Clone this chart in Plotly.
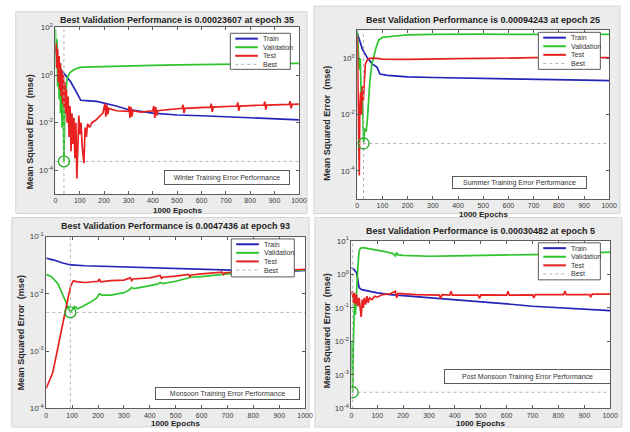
import plotly.graph_objects as go

W, H = 630, 432

# ---------------- data ----------------
epoch_ticks = [0, 100, 200, 300, 400, 500, 600, 700, 800, 900, 1000]
series_names = ["Train", "Validation", "Test", "Best"]

# Winter
winter_train_epoch = [0, 5, 10, 15, 30, 45, 63, 85, 104, 140, 170, 250, 300, 400, 500, 600, 700, 800, 900, 1000]
winter_train_mse = [12.6, 6.3, 3.2, 2.1, 1.38, 0.87, 0.51, 0.2, 0.087, 0.082, 0.079, 0.05, 0.035, 0.025, 0.021, 0.0195, 0.0174, 0.0158, 0.0145, 0.0132]
winter_val_epoch = [0, 3, 6, 9, 12, 15, 18, 21, 24, 27, 30, 33, 35, 38, 42, 46, 51, 60, 75, 100, 150, 200, 300, 400, 500, 600, 700, 800, 900, 1000]
winter_val_mse = [89, 2.0, 32, 0.32, 5.0, 0.1, 2.5, 0.025, 1.26, 0.0063, 0.25, 0.0016, 0.00023607, 0.016, 0.16, 0.5, 0.91, 1.26, 1.66, 2.1, 2.2, 2.3, 2.45, 2.57, 2.7, 2.8, 2.9, 2.95, 3.0, 3.1]
winter_test_epoch = [0, 3, 6, 9, 12, 15, 18, 21, 24, 27, 30, 33, 36, 39, 42, 45, 48, 52, 56, 60,
                     64, 68, 72, 76, 80, 84, 88, 92, 96, 100, 105, 110, 117, 122, 127, 132, 140, 150, 165, 180,
                     195, 203, 207, 211, 215, 219, 250, 300, 303, 306, 310, 314, 318, 350, 400, 404, 408, 412, 416, 420,
                     460, 520, 524, 528, 532, 600, 636, 640, 644, 648, 700, 745, 749, 753, 757, 800, 856, 860, 864, 868,
                     900, 960, 964, 968, 972, 1000]
winter_test_mse = [10, 22, 2.0, 12.6, 0.5, 6.3, 0.25, 3.2, 0.126, 1.6, 0.063, 1.0, 0.04, 0.5, 0.025, 0.25, 0.01, 0.126, 0.0025, 0.05,
                   0.00063, 0.025, 0.00126, 0.016, 0.00032, 0.01, 0.000045, 0.0063, 0.02, 0.0032, 0.01, 0.001, 0.0002, 0.0063, 0.0025, 0.0089, 0.0063, 0.01, 0.0126, 0.0178,
                   0.025, 0.063, 0.0178, 0.056, 0.0224, 0.04, 0.0316, 0.030, 0.05, 0.0158, 0.045, 0.0178, 0.0316, 0.028, 0.0316, 0.05, 0.0158, 0.045, 0.02, 0.0316,
                   0.0355, 0.04, 0.056, 0.025, 0.04, 0.044, 0.045, 0.063, 0.028, 0.045, 0.048, 0.05, 0.071, 0.0316, 0.05, 0.052, 0.055, 0.076, 0.0355, 0.055,
                   0.056, 0.059, 0.079, 0.04, 0.059, 0.060]
winter_best_epoch = 35
winter_best_mse = 0.00023607

# Summer
summer_train_epoch = [0, 10, 20, 39, 60, 78, 90, 120, 150, 200, 300, 400, 500, 600, 700, 800, 900, 1000]
summer_train_mse = [7.9, 4.0, 2.2, 1.07, 0.63, 0.49, 0.28, 0.25, 0.24, 0.22, 0.21, 0.204, 0.2, 0.19, 0.186, 0.178, 0.17, 0.162]
summer_val_epoch = [0, 4, 8, 12, 16, 20, 25, 30, 35, 40, 45, 50, 58, 66, 75, 85, 100, 150, 200, 300, 400, 500, 600, 700, 800, 900, 1000]
summer_val_mse = [10, 1.58, 0.4, 1.0, 0.032, 0.1, 0.00094243, 0.0032, 0.0025, 0.0063, 0.04, 0.16, 0.63, 1.26, 2.5, 4.5, 5.6, 6.3, 6.9, 7.2, 7.4, 7.3, 7.2, 7.4, 7.2, 7.3, 7.2]
summer_test_epoch = [0, 3, 6, 8, 10, 13, 16, 20, 24, 28, 32, 40, 50, 70, 100, 200, 300, 400, 500, 600, 700, 800, 900, 1000]
summer_test_mse = [6.0, 0.1, 0.0032, 0.000068, 0.016, 0.063, 0.01, 0.1, 0.032, 0.25, 0.63, 0.89, 1.0, 1.02, 0.95, 0.93, 0.93, 0.98, 1.0, 1.05, 1.07, 1.07, 1.07, 1.07]
summer_best_epoch = 25
summer_best_mse = 0.00094243

# Monsoon
monsoon_train_epoch = [0, 30, 60, 95, 150, 250, 350, 450, 550, 650, 750, 850, 950, 1000]
monsoon_train_mse = [0.042, 0.039, 0.035, 0.032, 0.031, 0.030, 0.0295, 0.028, 0.027, 0.026, 0.0257, 0.025, 0.025, 0.0257]
monsoon_val_epoch = [0, 20, 45, 60, 75, 85, 93, 100, 110, 120, 140, 170, 195, 205, 215, 250, 300, 320, 330, 340,
                     400, 430, 440, 450, 500, 550, 560, 600, 700, 800, 900, 1000]
monsoon_val_mse = [0.0219, 0.020, 0.0151, 0.0105, 0.0071, 0.0056, 0.0047436, 0.0052, 0.0060, 0.0055, 0.0060, 0.0071, 0.0085, 0.010, 0.0095, 0.0095, 0.0105, 0.0117, 0.0129, 0.0123,
                   0.0138, 0.0148, 0.0158, 0.0151, 0.0166, 0.0186, 0.0195, 0.020, 0.0224, 0.0234, 0.025, 0.0263]
monsoon_test_epoch = [0, 10, 25, 40, 55, 70, 85, 95, 105, 120, 150, 200, 205, 210, 250, 300, 325, 330, 335, 400,
                      440, 445, 450, 500, 550, 555, 560, 600, 680, 685, 690, 750, 850, 1000]
monsoon_test_mse = [0.000224, 0.00028, 0.00042, 0.00089, 0.0020, 0.0041, 0.0089, 0.0141, 0.017, 0.0162, 0.0158, 0.0166, 0.0182, 0.0162, 0.017, 0.0174, 0.019, 0.017, 0.0182, 0.019,
                    0.0209, 0.0186, 0.0195, 0.0204, 0.0219, 0.020, 0.0214, 0.0224, 0.024, 0.0219, 0.0234, 0.0245, 0.025, 0.0269]
monsoon_best_epoch = 93
monsoon_best_mse = 0.0047436

# Post Monsoon
post_train_epoch = [0, 10, 20, 25, 30, 40, 60, 100, 150, 200, 300, 400, 500, 600, 700, 800, 900, 1000]
post_train_mse = [1.58, 1.41, 1.12, 0.63, 0.4, 0.35, 0.32, 0.28, 0.25, 0.234, 0.204, 0.174, 0.151, 0.132, 0.112, 0.1, 0.091, 0.083]
post_val_epoch = [0, 3, 5, 8, 12, 16, 20, 25, 30, 35, 45, 60, 80, 100, 130, 160, 170, 175, 180, 200, 250, 300, 400, 500, 600, 700, 800, 900, 1000]
post_val_mse = [0.01, 0.001, 0.00030482, 0.01, 0.158, 0.063, 0.316, 1.58, 5.0, 6.0, 6.3, 6.0, 5.75, 5.4, 4.8, 4.2, 3.55, 4.5, 3.8, 3.7, 3.55, 3.47, 3.55, 3.6, 3.7, 3.9, 4.0, 4.2, 4.6]
post_test_epoch = [0, 4, 8, 12, 16, 20, 25, 30, 34, 38, 42, 46, 50, 55, 60, 65, 70, 80, 90, 100,
                   120, 150, 170, 175, 180, 250, 340, 345, 350, 380, 385, 390, 490, 495, 500, 600, 605, 610, 700, 705,
                   710, 820, 825, 830, 920, 925, 930, 1000]
post_test_mse = [0.25, 0.316, 0.141, 0.282, 0.126, 0.25, 0.112, 0.2, 0.1, 0.054, 0.178, 0.1, 0.2, 0.126, 0.224, 0.141, 0.2, 0.178, 0.224, 0.209,
                 0.25, 0.263, 0.316, 0.2, 0.269, 0.25, 0.24, 0.19, 0.25, 0.24, 0.316, 0.24, 0.24, 0.19, 0.245, 0.24, 0.316, 0.24, 0.245, 0.2,
                 0.25, 0.25, 0.316, 0.25, 0.25, 0.209, 0.257, 0.257]
post_best_epoch = 5
post_best_mse = 0.00030482

# ---------------- styling / layout ----------------
FONT = "Liberation Sans, Arial, sans-serif"
COL = {"Train": "#2424b8", "Validation": "#2ec42e", "Test": "#e82020", "Best": "#b4b4b4"}


def fx(px):
    return px / W


def fy(py):
    return 1 - py / H


def sup(e):
    return "10<sup>%d</sup>" % e


panels = [
    dict(train=(winter_train_epoch, winter_train_mse), val=(winter_val_epoch, winter_val_mse),
         test=(winter_test_epoch, winter_test_mse), best=(winter_best_epoch, winter_best_mse),
         title="Best Validation Performance is 0.00023607 at epoch 35",
         caption="Winter Training Error Performance",
         bg=(14, 6, 310, 213), plot=(54.3, 22, 301.7, 193), yexp=(-5, 2), yticks=[-4, -2, 0, 2],
         title_y=14, ylab=(28, 129), xlab_y=210, cap=(229, 175.5, 122, 11), leg=(232, 28, 293, 65)),
    dict(train=(summer_train_epoch, summer_train_mse), val=(summer_val_epoch, summer_val_mse),
         test=(summer_test_epoch, summer_test_mse), best=(summer_best_epoch, summer_best_mse),
         title="Best Validation Performance is 0.00094243 at epoch 25",
         caption="Summer Training Error Performance",
         bg=(317, 0, 628, 213), plot=(361, 25, 617, 198), yexp=(-5, 1), yticks=[-4, -2, 0],
         title_y=14, ylab=(330, 120), xlab_y=214, cap=(525.5, 181.5, 131, 9), leg=(545, 27, 608, 65)),
    dict(train=(monsoon_train_epoch, monsoon_train_mse), val=(monsoon_val_epoch, monsoon_val_mse),
         test=(monsoon_test_epoch, monsoon_test_mse), best=(monsoon_best_epoch, monsoon_best_mse),
         title="Best Validation Performance is 0.0047436 at epoch 93",
         caption="Monsoon Training Error Performance",
         bg=(10, 217, 312, 432), plot=(45, 236.7, 308, 412.7), yexp=(-4, -1), yticks=[-4, -3, -2, -1],
         title_y=226, ylab=(20, 335), xlab_y=428, cap=(229.5, 397.5, 141, 9), leg=(233, 239, 297, 278)),
    dict(train=(post_train_epoch, post_train_mse), val=(post_val_epoch, post_val_mse),
         test=(post_test_epoch, post_test_mse), best=(post_best_epoch, post_best_mse),
         title="Best Validation Performance is 0.00030482 at epoch 5",
         caption="Post Monsoon Training Error Performance",
         bg=(318, 217, 630, 432), plot=(355, 241, 618, 413), yexp=(-4, 1), yticks=[-4, -3, -2, -1, 0, 1],
         title_y=231, ylab=(330, 333), xlab_y=428, cap=(533.5, 380.5, 163, 11), leg=(545, 243, 608, 281)),
]

fig = go.Figure()
shapes_below, shapes_above, annotations = [], [], []
layout_axes = {}

for i, p in enumerate(panels, start=1):
    xa, ya = "x%d" % i, "y%d" % i
    xname = "xaxis" if i == 1 else "xaxis%d" % i
    yname = "yaxis" if i == 1 else "yaxis%d" % i
    x0, y0, x1, y1 = p["plot"]
    lo, hi = p["yexp"]

    axis_common = dict(showline=True, linecolor="#5c5c5c", linewidth=1, mirror="ticks",
                       ticks="inside", ticklen=3, tickcolor="#5c5c5c", showgrid=False, zeroline=False)
    layout_axes[xname] = dict(axis_common, domain=[fx(x0), fx(x1)], range=[0, 1000], anchor=ya,
                              tickvals=epoch_ticks, ticktext=[str(t) for t in epoch_ticks],
                              tickfont=dict(family=FONT, size=7, color="#3a3a3a"))
    layout_axes[yname] = dict(axis_common, domain=[fy(y1), fy(y0)], type="log", range=[lo, hi], anchor=xa,
                              tickvals=[10.0 ** e for e in p["yticks"]], ticktext=[sup(e) for e in p["yticks"]],
                              tickfont=dict(family=FONT, size=8, color="#3a3a3a"))

    for key, name in (("train", "Train"), ("val", "Validation"), ("test", "Test")):
        ex, mse = p[key]
        fig.add_trace(go.Scatter(x=ex, y=mse, mode="lines", name=name, xaxis=xa, yaxis=ya,
                                 line=dict(color=COL[name], width=1.7), showlegend=False, hoverinfo="skip"))
    be, bv = p["best"]
    fig.add_trace(go.Scatter(x=[epoch_ticks[0], epoch_ticks[-1]], y=[bv, bv], mode="lines", xaxis=xa, yaxis=ya,
                             line=dict(color=COL["Best"], width=1, dash="dot"), showlegend=False, hoverinfo="skip"))
    fig.add_trace(go.Scatter(x=[be, be], y=[10.0 ** lo, 10.0 ** hi], mode="lines", xaxis=xa, yaxis=ya,
                             line=dict(color=COL["Best"], width=1, dash="dot"), showlegend=False, hoverinfo="skip"))
    fig.add_trace(go.Scatter(x=[be], y=[bv], mode="markers", xaxis=xa, yaxis=ya,
                             marker=dict(symbol="circle-open", size=11, color="#22a822", line=dict(width=1.3)),
                             showlegend=False, hoverinfo="skip"))

    # panel background (MATLAB figure grey) and white axes area
    bx0, by0, bx1, by1 = p["bg"]
    shapes_below.append(dict(type="rect", xref="paper", yref="paper", x0=fx(bx0), x1=fx(bx1), y0=fy(by1), y1=fy(by0),
                             fillcolor="#ececec", line=dict(color="#d4d4d4", width=1), layer="below"))
    shapes_below.append(dict(type="rect", xref="paper", yref="paper", x0=fx(x0), x1=fx(x1), y0=fy(y1), y1=fy(y0),
                             fillcolor="white", line=dict(width=0), layer="below"))

    # title, axis labels
    cx = (x0 + x1) / 2
    annotations.append(dict(text="<b>%s</b>" % p["title"], x=fx(cx), y=fy(p["title_y"]), xref="paper", yref="paper",
                            xanchor="center", yanchor="middle", showarrow=False,
                            font=dict(family=FONT, size=9, color="#1e1e1e")))
    annotations.append(dict(text="<b>1000 Epochs</b>", x=fx(cx), y=fy(p["xlab_y"]), xref="paper", yref="paper",
                            xanchor="center", yanchor="middle", showarrow=False,
                            font=dict(family=FONT, size=8, color="#1e1e1e")))
    annotations.append(dict(text="<b>Mean Squared Error\u00a0 (mse)</b>", x=fx(p["ylab"][0]), y=fy(p["ylab"][1]),
                            xref="paper", yref="paper", xanchor="center", yanchor="middle", textangle=-90,
                            showarrow=False, font=dict(family=FONT, size=9, color="#2a2a2a")))
    # caption box
    ccx, ccy, cw, ch = p["cap"]
    annotations.append(dict(text=p["caption"], x=fx(ccx), y=fy(ccy), xref="paper", yref="paper",
                            xanchor="center", yanchor="middle", showarrow=False, width=cw, height=ch,
                            bgcolor="white", bordercolor="#5a5a5a", borderwidth=1, borderpad=1,
                            font=dict(family=FONT, size=7, color="#333333")))
    # legend box
    lx0, ly0, lx1, ly1 = p["leg"]
    shapes_above.append(dict(type="rect", xref="paper", yref="paper", x0=fx(lx0), x1=fx(lx1), y0=fy(ly1), y1=fy(ly0),
                             fillcolor="white", line=dict(color="#5a5a5a", width=1), layer="above"))
    for k, name in enumerate(series_names):
        ry = ly0 + 5.5 + k * 8.8
        shapes_above.append(dict(type="line", xref="paper", yref="paper", x0=fx(lx0 + 5), x1=fx(lx0 + 28),
                                 y0=fy(ry), y1=fy(ry), layer="above",
                                 line=dict(color=COL[name], width=1 if name == "Best" else 2,
                                           dash="dot" if name == "Best" else "solid")))
        annotations.append(dict(text=name, x=fx(lx0 + 31), y=fy(ry), xref="paper", yref="paper",
                                xanchor="left", yanchor="middle", showarrow=False,
                                font=dict(family=FONT, size=7, color="#333333")))

fig.update_layout(
    width=W, height=H, autosize=False,
    margin=dict(l=0, r=0, t=0, b=0, pad=0),
    paper_bgcolor="white", plot_bgcolor="white",
    showlegend=False,
    font=dict(family=FONT, size=7, color="#333333"),
    shapes=shapes_below + shapes_above,
    annotations=annotations,
    **layout_axes,
)

fig.write_html("out.html",
               config={"displayModeBar": False, "staticPlot": True},
               post_script="document.body.style.margin='0';document.body.style.overflow='hidden';")
